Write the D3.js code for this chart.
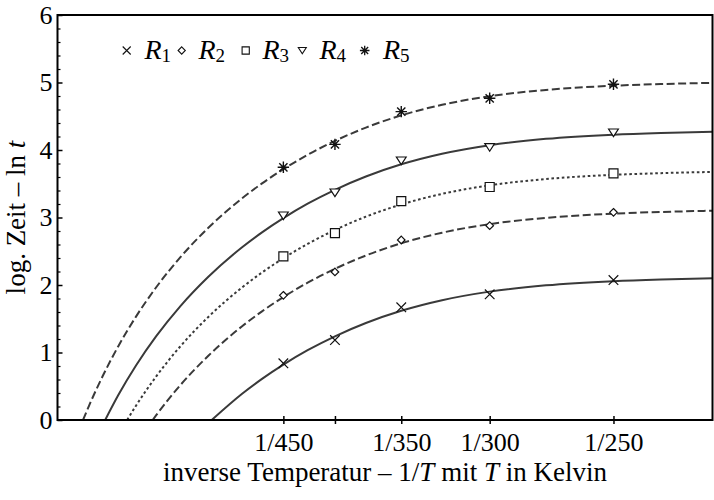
<!DOCTYPE html>
<html><head><meta charset="utf-8">
<script src="https://cdn.jsdelivr.net/npm/d3@7"></script>
<style>
body{margin:0;background:#fff}
svg{display:block}
text{font-family:"Liberation Serif","Times New Roman",serif;fill:#000}
</style>
</head><body>
<svg id="c" width="714" height="500"></svg>
<script>
// ---------- data ----------
const seriesNames = ["R1","R2","R3","R4","R5"];
const temperatures = [450, 400, 350, 300, 250];          // measurement points, x = 1/T
const valuesR1 = [0.840, 1.185, 1.669, 1.862, 2.074];
const valuesR2 = [1.847, 2.193, 2.667, 2.879, 3.077];
const valuesR3 = [2.425, 2.770, 3.244, 3.452, 3.654];
const valuesR4 = [3.027, 3.368, 3.842, 4.040, 4.257];
const valuesR5 = [3.744, 4.084, 4.568, 4.766, 4.973];

// fitted curves: [T in Kelvin, ln t]
const fitR1 = [[544.6,0],[500,0.389],[475,0.606],[450,0.821],[425,1.034],[400,1.240],[375,1.437],[350,1.618],[325,1.775],[300,1.902],[275,1.995],[250,2.057],[235,2.082],[220,2.101]];
const fitR2 = [[658.6,0],[650,0.075],[600,0.514],[550,0.952],[500,1.389],[475,1.606],[450,1.821],[425,2.034],[400,2.240],[375,2.437],[350,2.618],[325,2.775],[300,2.902],[275,2.995],[250,3.057],[235,3.082],[220,3.101]];
const fitR3 = [[724.2,0],[700,0.212],[650,0.650],[600,1.089],[550,1.527],[500,1.964],[475,2.181],[450,2.396],[425,2.609],[400,2.815],[375,3.012],[350,3.193],[325,3.350],[300,3.477],[275,3.570],[250,3.632],[235,3.657],[220,3.676]];
const fitR4 = [[792.0,0],[750,0.369],[700,0.807],[650,1.245],[600,1.684],[550,2.122],[500,2.559],[475,2.776],[450,2.991],[425,3.204],[400,3.410],[375,3.607],[350,3.788],[325,3.945],[300,4.072],[275,4.165],[250,4.227],[235,4.252],[220,4.271]];
const fitR5 = [[874.7,0],[850,0.217],[800,0.655],[750,1.094],[700,1.532],[650,1.970],[600,2.409],[550,2.847],[500,3.284],[475,3.501],[450,3.716],[425,3.929],[400,4.135],[375,4.332],[350,4.513],[325,4.670],[300,4.797],[275,4.890],[250,4.952],[235,4.977],[220,4.996]];

const xTickTemps  = [450, 400, 350, 300, 250];
const xTickLabels = ["1/450", "", "1/350", "1/300", "1/250"];
const yTickValues = [0, 1, 2, 3, 4, 5, 6];
const yMinorValues = d3.range(0, 30).map(i => i/5).filter(v => Math.abs(v - Math.round(v)) > 1e-9);

// ---------- layout ----------
const L = 57.5, R = 712.5, T = 15, B = 420;
const svg = d3.select("#c");
const x = d3.scaleLinear().domain([0.0010058, 0.0045333]).range([L, R]);
const y = d3.scaleLinear().domain([0, 6]).range([B, T]);
const FONT = '"Liberation Serif","Times New Roman",serif';

svg.append("defs").append("clipPath").attr("id","clip")
  .append("rect").attr("x",L).attr("y",T).attr("width",R-L).attr("height",B-T);

// ---------- curves ----------
const lineGen = d3.line().x(d => x(1/d[0])).y(d => y(d[1])).curve(d3.curveMonotoneX);
const fits = [fitR1, fitR2, fitR3, fitR4, fitR5];
const dashes = [null, "8,3.5", "2.6,2.6", null, "8,3.5"];
const gCurves = svg.append("g").attr("clip-path","url(#clip)");
fits.forEach((f,i) => {
  gCurves.append("path").attr("d", lineGen(f))
    .attr("fill","none").attr("stroke","#3a3a3a").attr("stroke-width",2)
    .attr("stroke-dasharray", dashes[i]);
});

// ---------- markers ----------
function markerPath(kind, s){
  switch(kind){
    case 0: return `M${-s},${-s}L${s},${s}M${-s},${s}L${s},${-s}`;
    case 1: return `M0,${-s}L${s},0L0,${s}L${-s},0Z`;
    case 2: return `M${-s},${-s}H${s}V${s}H${-s}Z`;
    case 3: return `M${-s},${-s*0.75}H${s}L0,${s*0.8}Z`;
    case 4: { const d = s*0.72;
      return `M0,${-s}V${s}M${-s},0H${s}M${-d},${-d}L${d},${d}M${-d},${d}L${d},${-d}`; }
  }
}
const markerSize = [4.8, 3.8, 4.5, 4.9, 5.7];
const allValues = [valuesR1, valuesR2, valuesR3, valuesR4, valuesR5];
const gMarks = svg.append("g");
allValues.forEach((vals,i) => {
  gMarks.selectAll(null).data(vals.map((v,j)=>[1/temperatures[j], v])).enter()
    .append("path")
    .attr("transform", d => `translate(${x(d[0])},${y(d[1])})`)
    .attr("d", markerPath(i, markerSize[i]))
    .attr("fill", "#fff").attr("fill-opacity", i===0||i===4 ? 0 : 1)
    .attr("stroke","#111").attr("stroke-width", i===4 ? 1.4 : 1.2);
});

// ---------- axes ----------
const yAxis = d3.axisLeft(y).tickValues(yTickValues).tickSizeInner(-5).tickSizeOuter(0).tickPadding(5).tickFormat(d3.format("d"));
const gy = svg.append("g").attr("transform",`translate(${L},0)`).call(yAxis);
gy.attr("font-family", FONT).attr("font-size", 26);
gy.select(".domain").remove();
gy.selectAll("text").attr("fill","#000");
gy.selectAll(".tick line").attr("stroke","#000").attr("stroke-width",1.5);

const yMinor = d3.axisLeft(y).tickValues(yMinorValues).tickSizeInner(-3).tickSizeOuter(0).tickFormat("");
const gym = svg.append("g").attr("transform",`translate(${L},0)`).call(yMinor);
gym.select(".domain").remove();
gym.selectAll(".tick line").attr("stroke","#000").attr("stroke-width",1.2);

const xAxis = d3.axisBottom(x).tickValues(xTickTemps.map(t=>1/t)).tickSizeInner(4).tickSizeOuter(0).tickPadding(9)
  .tickFormat((d,i) => xTickLabels[i]);
const gx = svg.append("g").attr("transform",`translate(0,${B})`).call(xAxis);
gx.attr("font-family", FONT).attr("font-size", 26);
gx.select(".domain").remove();
gx.selectAll(".tick line").attr("y1",-4).attr("y2",4).attr("stroke","#000").attr("stroke-width",1.5);
gx.selectAll("text").attr("fill","#000");

// frame
svg.append("rect").attr("x",L).attr("y",T).attr("width",R-L).attr("height",B-T)
  .attr("fill","none").attr("stroke","#000").attr("stroke-width",2);

// axis titles
const xl = svg.append("text").attr("x",(L+R)/2).attr("y",481).attr("text-anchor","middle").style("font-size","27px");
xl.append("tspan").text("inverse Temperatur \u2013 1/");
xl.append("tspan").attr("font-style","italic").text("T");
xl.append("tspan").text(" mit ");
xl.append("tspan").attr("font-style","italic").text("T");
xl.append("tspan").text(" in Kelvin");

const yl = svg.append("text").attr("transform",`translate(25,${(T+B)/2}) rotate(-90)`).attr("text-anchor","middle").style("font-size","27px");
yl.append("tspan").text("log. Zeit \u2013 ln ");
yl.append("tspan").attr("font-style","italic").text("t");

// ---------- legend ----------
const legendMarkX = [126.7, 181.7, 245.7, 302.3, 364.7];
const legendTextX = [144.5, 198.5, 262.5, 319.5, 383];
const legendMarkSize = [4.0, 3.6, 3.6, 4.0, 4.8];
const gl = svg.append("g");
seriesNames.forEach((n,i) => {
  gl.append("path").attr("transform",`translate(${legendMarkX[i]},50.5)`)
    .attr("d", markerPath(i, legendMarkSize[i]))
    .attr("fill","#fff").attr("fill-opacity", i===0||i===4 ? 0 : 1)
    .attr("stroke","#111").attr("stroke-width", i===4 ? 1.3 : 1.1);
  const t = gl.append("text").attr("x", legendTextX[i]).attr("y", 58.5).style("font-size","28px");
  t.append("tspan").attr("font-style","italic").text(n[0]);
  t.append("tspan").attr("dy", 3.5).style("font-size","19px").text(n.slice(1));
});
</script>
</body></html>
